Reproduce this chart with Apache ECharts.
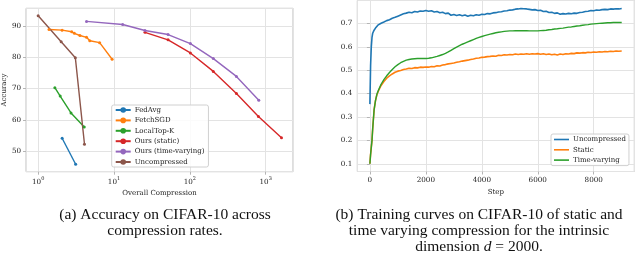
<!DOCTYPE html>
<html><head><meta charset="utf-8">
<script src="https://cdn.jsdelivr.net/npm/echarts@6/dist/echarts.min.js"></script>
<style>html,body{margin:0;padding:0;background:#fff}#c{width:640px;height:255px}</style>
</head><body><div id="c"></div>
<script>
// ---------- (a) accuracy vs overall compression ----------
const seriesNamesA = ['FedAvg','FetchSGD','LocalTop-K','Ours (static)','Ours (time-varying)','Uncompressed'];
const fedAvgX = [2.07, 3.12];
const fedAvgY = [54.1, 45.8];
const fetchSgdX = [1.39, 2.07, 2.77, 3.0, 3.55, 4.34, 4.79, 6.46, 9.44];
const fetchSgdY = [88.9, 88.7, 88.2, 87.7, 87.0, 86.4, 85.3, 84.7, 79.4];
const localTopKX = [1.66, 1.95, 2.71, 4.05];
const localTopKY = [70.3, 67.6, 62.2, 57.7];
const oursStaticX = [25.6, 51.6, 101.6, 204, 411, 802, 1615];
const oursStaticY = [88.0, 85.6, 81.4, 75.5, 68.4, 61.1, 54.3];
const oursTvX = [4.34, 13.0, 25.6, 51.6, 101.6, 204, 411, 811];
const oursTvY = [91.5, 90.5, 88.6, 87.3, 84.4, 79.6, 73.9, 66.3];
const uncompAX = [1.0, 2.01, 3.09, 4.08];
const uncompAY = [93.3, 85.0, 79.9, 52.2];

// ---------- (b) training curves ----------
// (series ids carry a trailing space so they do not clash with chart (a)'s "Uncompressed"; the legend trims it)
const seriesNamesB = ['Uncompressed ','Static','Time-varying'];
const steps = [0,25,50,75,100,150,200,250,300,
 400,500,600,700,800,900,1000,1100,1200,1300,1400,1500,1600,1700,1800,1900,2000,
 2100,2200,2300,2400,2500,2600,2700,2800,2900,3000,3100,3200,3300,3400,3500,3600,3700,3800,3900,4000,
 4100,4200,4300,4400,4500,4600,4700,4800,4900,5000,5100,5200,5300,5400,5500,5600,5700,5800,5900,6000,
 6100,6200,6300,6400,6500,6600,6700,6800,6900,7000,7100,7200,7300,7400,7500,7600,7700,7800,7900,8000,
 8100,8200,8300,8400,8500,8600,8700,8800,8900,9000];
const uncompB = [0.355,0.52,0.60,0.64,0.658,0.671,0.680,0.688,0.694,
 0.701,0.706,0.712,0.716,0.722,0.726,0.731,0.736,0.741,0.744,0.748,0.746,0.751,0.749,0.753,0.752,0.755,
 0.752,0.754,0.749,0.751,0.746,0.748,0.742,0.744,0.735,0.738,0.734,0.737,0.733,0.736,0.731,0.735,0.733,0.737,0.735,0.739,
 0.738,0.742,0.741,0.745,0.746,0.749,0.750,0.753,0.754,0.757,0.758,0.761,0.762,0.764,0.763,0.762,0.760,0.758,0.759,0.755,
 0.756,0.751,0.752,0.747,0.748,0.743,0.745,0.739,0.742,0.740,0.743,0.741,0.744,0.743,0.747,0.748,0.751,0.752,0.755,0.754,
 0.757,0.756,0.759,0.760,0.759,0.762,0.761,0.763,0.762,0.764];
const staticB = [0.10,0.14,0.17,0.20,0.25,0.33,0.37,0.395,0.41,
 0.435,0.452,0.466,0.476,0.484,0.491,0.496,0.499,0.503,0.505,0.508,0.507,0.511,0.510,0.513,0.512,0.514,
 0.513,0.516,0.515,0.519,0.518,0.522,0.524,0.527,0.529,0.531,0.534,0.536,0.539,0.541,0.543,0.546,0.548,0.551,0.552,0.555,
 0.556,0.558,0.559,0.561,0.560,0.564,0.563,0.566,0.565,0.567,0.566,0.569,0.567,0.569,0.568,0.570,0.568,0.570,0.569,0.571,
 0.568,0.570,0.567,0.569,0.566,0.568,0.565,0.569,0.567,0.570,0.569,0.572,0.571,0.574,0.573,0.575,0.574,0.577,0.576,0.578,
 0.577,0.579,0.578,0.580,0.579,0.581,0.580,0.582,0.581,0.582];
const timeVaryingB = [0.10,0.14,0.17,0.20,0.25,0.33,0.37,0.397,0.413,
 0.44,0.46,0.476,0.490,0.503,0.515,0.524,0.532,0.538,0.543,0.546,0.548,0.549,0.550,0.550,0.550,0.550,
 0.551,0.553,0.556,0.559,0.563,0.567,0.572,0.578,0.585,0.592,0.599,0.605,0.611,0.616,0.621,0.626,0.631,0.636,0.640,0.644,
 0.648,0.651,0.654,0.657,0.660,0.662,0.664,0.666,0.667,0.668,0.668,0.669,0.669,0.669,0.669,0.669,0.668,0.668,0.668,0.668,
 0.669,0.670,0.671,0.673,0.674,0.676,0.677,0.679,0.680,0.682,0.684,0.685,0.687,0.689,0.690,0.692,0.694,0.695,0.697,0.698,
 0.699,0.700,0.701,0.702,0.703,0.703,0.704,0.704,0.704,0.704];

const colorsA = ['#1f77b4','#ff7f0e','#2ca02c','#d62728','#9467bd','#8c564b'];
const colorsB = ['#1f77b4','#ff7f0e','#2ca02c'];

const zip = (xs, ys) => xs.map((x, i) => [x, ys[i]]);
const SERIF = 'DejaVu Serif';
const CAP = 'Liberation Serif';
const TXT = '#222';
const gridLine = {show: true, lineStyle: {color: '#e3e3e3', width: 1}};
const tick = {show: true, length: 3, lineStyle: {color: '#b5b5b5'}};
const lbl = {fontFamily: SERIF, fontSize: 7.2, color: TXT, margin: 5};

const dataA = [zip(fedAvgX, fedAvgY), zip(fetchSgdX, fetchSgdY), zip(localTopKX, localTopKY),
  zip(oursStaticX, oursStaticY), zip(oursTvX, oursTvY), zip(uncompAX, uncompAY)];
const dataB = [uncompB, staticB, timeVaryingB];

const capStyle = (t, extra) => Object.assign({text: t, fontFamily: CAP, fontSize: 15.5, fill: '#111', align: 'center', verticalAlign: 'middle'}, extra || {});

const chart = echarts.init(document.getElementById('c'), null, {renderer: 'canvas'});
const option = {
  animation: false,
  backgroundColor: '#fff',
  grid: [
    {left: 22.7, top: 8.3, width: 270.3, height: 163.4, show: true, borderColor: '#bdbdbd', borderWidth: 1, backgroundColor: 'transparent'},
    {left: 357.3, top: 0.5, width: 277, height: 171, show: true, borderColor: '#bdbdbd', borderWidth: 1, backgroundColor: 'transparent'}
  ],
  xAxis: [
    {gridIndex: 0, type: 'log', logBase: 10, min: Math.pow(10, -0.16), max: Math.pow(10, 3.36),
     axisLine: {show: false}, axisTick: tick, splitLine: gridLine,
     axisLabel: Object.assign({}, lbl, {showMinLabel: false, showMaxLabel: false,
       formatter: v => '10{s|' + Math.round(Math.log10(v)) + '}',
       rich: {s: {fontFamily: SERIF, fontSize: 5, color: TXT, padding: [0, 0, 5, 0]}}}),
     name: 'Overall Compression', nameLocation: 'middle', nameGap: 13.5,
     nameTextStyle: {fontFamily: SERIF, fontSize: 7, color: TXT}},
    {gridIndex: 1, type: 'value', min: -450, max: 9450,
     axisLine: {show: false}, axisTick: tick, splitLine: gridLine,
     axisLabel: Object.assign({}, lbl, {showMinLabel: false, showMaxLabel: false, formatter: v => String(Math.round(v))}),
     name: 'Step', nameLocation: 'middle', nameGap: 13.5,
     nameTextStyle: {fontFamily: SERIF, fontSize: 7, color: TXT}}
  ],
  yAxis: [
    {gridIndex: 0, type: 'value', min: 43.4, max: 95.7,
     axisLine: {show: false}, axisTick: tick, splitLine: gridLine,
     axisLabel: Object.assign({}, lbl, {showMinLabel: false, showMaxLabel: false}),
     name: 'Accuracy', nameLocation: 'middle', nameGap: 16, nameRotate: 90,
     nameTextStyle: {fontFamily: SERIF, fontSize: 7, color: TXT}},
    {gridIndex: 1, type: 'value', min: 0.067, max: 0.798,
     axisLine: {show: false}, axisTick: tick, splitLine: gridLine,
     axisLabel: Object.assign({}, lbl, {showMinLabel: false, showMaxLabel: false,
       formatter: v => v.toFixed(1)})}
  ],
  legend: [
    {data: seriesNamesA, orient: 'vertical', left: 111.7, top: 105, itemWidth: 15, itemHeight: 7, itemGap: 3.4,
     padding: [1.5, 4, 1.5, 3], borderColor: '#d0d0d0', borderWidth: 1, borderRadius: 2, backgroundColor: 'rgba(255,255,255,0.85)',
     textStyle: {fontFamily: SERIF, fontSize: 7, color: TXT, lineHeight: 7, padding: [0, 0, 0, -1]}},
    {data: seriesNamesB, orient: 'vertical', left: 551, top: 134, itemWidth: 15, itemHeight: 1.6, itemGap: 3.3,
     icon: 'rect',
     formatter: n => n.trim(),
     padding: [2, 3, 2, 3], borderColor: '#d0d0d0', borderWidth: 1, borderRadius: 2, backgroundColor: 'rgba(255,255,255,0.85)',
     textStyle: {fontFamily: SERIF, fontSize: 7, color: TXT, lineHeight: 7, padding: [0, 0, 0, -1]}}
  ],
  series: [].concat(
    seriesNamesA.map((n, i) => ({
      name: n, type: 'line', xAxisIndex: 0, yAxisIndex: 0, data: dataA[i],
      symbol: 'circle', symbolSize: 3, showSymbol: true,
      lineStyle: {width: 1.4, color: colorsA[i]}, itemStyle: {color: colorsA[i]}
    })),
    seriesNamesB.map((n, i) => ({
      name: n, type: 'line', xAxisIndex: 1, yAxisIndex: 1, data: zip(steps, dataB[i]),
      symbol: 'none', lineStyle: {width: i === 2 ? 1.4 : 1.6, color: colorsB[i]}, itemStyle: {color: colorsB[i]}
    }))
  ),
  graphic: [
    {type: 'text', x: 165, y: 215, style: capStyle('(a) Accuracy on CIFAR-10 across')},
    {type: 'text', x: 165, y: 231, style: capStyle('compression rates.')},
    {type: 'text', x: 479, y: 215, style: capStyle('(b) Training curves on CIFAR-10 of static and')},
    {type: 'text', x: 479, y: 231, style: capStyle('time varying compression for the intrinsic')},
    {type: 'text', x: 479, y: 247, style: capStyle('dimension {i|d} = 2000.', {
      rich: {i: {fontFamily: CAP, fontStyle: 'italic', fontSize: 15.5, fill: '#111'}}})}
  ]
};
chart.setOption(option);
</script></body></html>
